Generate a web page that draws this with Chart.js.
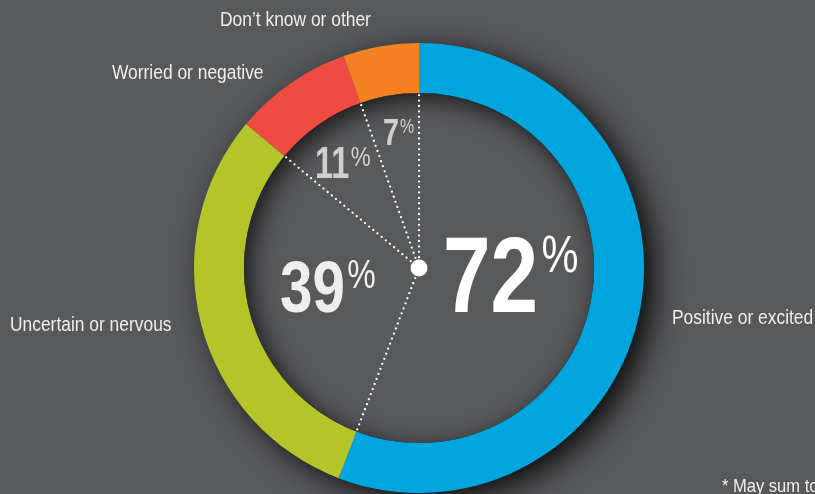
<!DOCTYPE html>
<html>
<head>
<meta charset="utf-8">
<script src="https://cdn.jsdelivr.net/npm/chart.js@4.4.1/dist/chart.umd.min.js"></script>
<style>
  html, body { margin: 0; padding: 0; background: #58595b; }
  #wrap { width: 815px; height: 494px; position: relative; }
</style>
</head>
<body>
<div id="wrap"><canvas id="donut"></canvas></div>
<script>
const categories = ["Positive or excited", "Uncertain or nervous", "Worried or negative", "Don\u2019t know or other"];
const values = [72, 39, 11, 7];
const colors = ["#00a5dd", "#b5c429", "#ef4b42", "#f58220"];
const footnote = "* May sum to more than 100%";

const BG = "#58595b";
const FONT = "'Liberation Sans', Arial, sans-serif";

// outer label anchors (left x, baseline y)
const labelAnchors = [
  [672, 324],
  [10, 331],
  [112, 79],
  [220, 26],
];

// big percentage numbers inside the hole, offsets from the centre
const numberStyle = [
  { dx: 24, dy: 44, size: 107, pct: 52, color: "#ffffff" },
  { dx: -139, dy: 44, size: 73, pct: 40, color: "#eeeeee" },
  { dx: -104, dy: -90, size: 44, pct: 28, color: "#cfcfcf" },
  { dx: -36, dy: -123, size: 36, pct: 20, color: "#cfcfcf" },
];

// draws text squeezed horizontally to get a condensed look
function squeezed(ctx, text, x, y, sx) {
  ctx.save();
  ctx.translate(x, y);
  ctx.scale(sx, 1);
  ctx.fillText(text, 0, 0);
  ctx.restore();
  return ctx.measureText(text).width * sx;
}

const ringDecor = {
  id: "ringDecor",
  beforeDatasetsDraw(chart) {
    const arc = chart.getDatasetMeta(0).data[0];
    const { x, y, outerRadius } = arc;
    const ctx = chart.ctx;
    ctx.save();
    ctx.shadowColor = "rgba(0,0,0,0.95)";
    ctx.shadowBlur = 32;
    ctx.shadowOffsetX = 11;
    ctx.shadowOffsetY = 8;
    ctx.fillStyle = BG;
    ctx.beginPath();
    ctx.arc(x, y, outerRadius - 2, 0, Math.PI * 2);
    ctx.fill();
    ctx.restore();
  },
  afterDatasetsDraw(chart) {
    const arcs = chart.getDatasetMeta(0).data;
    const { x: cx, y: cy, innerRadius } = arcs[0];
    const ctx = chart.ctx;

    // inner shadow of the hole
    ctx.save();
    ctx.beginPath();
    ctx.arc(cx, cy, innerRadius, 0, Math.PI * 2);
    ctx.clip();
    ctx.shadowColor = "rgba(0,0,0,0.75)";
    ctx.shadowBlur = 24;
    ctx.shadowOffsetX = 6;
    ctx.shadowOffsetY = 6;
    ctx.fillStyle = "#000";
    ctx.beginPath();
    ctx.arc(cx, cy, innerRadius + 80, 0, Math.PI * 2);
    ctx.arc(cx, cy, innerRadius, 0, Math.PI * 2, true);
    ctx.fill();
    ctx.restore();

    // dotted spokes to each segment boundary
    ctx.save();
    ctx.strokeStyle = "#ffffff";
    ctx.lineWidth = 2.3;
    ctx.lineCap = "round";
    ctx.setLineDash([0, 5.4]);
    arcs.forEach((a) => {
      const ang = a.startAngle;
      ctx.beginPath();
      ctx.moveTo(cx, cy);
      ctx.lineTo(cx + Math.cos(ang) * innerRadius, cy + Math.sin(ang) * innerRadius);
      ctx.stroke();
    });
    ctx.restore();

    ctx.save();
    ctx.fillStyle = "#ffffff";
    ctx.beginPath();
    ctx.arc(cx, cy, 8.5, 0, Math.PI * 2);
    ctx.fill();

    // percentages
    ctx.textBaseline = "alphabetic";
    ctx.textAlign = "left";
    values.forEach((v, i) => {
      const s = numberStyle[i];
      const tx = cx + s.dx, ty = cy + s.dy;
      const top = ty - s.size * 0.72;
      const g = ctx.createLinearGradient(0, top, 0, ty);
      g.addColorStop(0, s.color);
      g.addColorStop(1, "#ffffff");
      ctx.fillStyle = g;
      ctx.font = "bold " + s.size + "px " + FONT;
      const w = squeezed(ctx, String(v), tx, ty, i === 2 ? 0.74 : 0.8);
      ctx.font = s.pct + "px " + FONT;
      squeezed(ctx, "%", tx + w + s.size * 0.03, top + s.pct * 0.72, 0.8);
    });

    // category labels
    ctx.fillStyle = "#eeeeee";
    ctx.font = "20px " + FONT;
    categories.forEach((c, i) => {
      squeezed(ctx, c, labelAnchors[i][0], labelAnchors[i][1], 0.87);
    });
    ctx.font = "19px " + FONT;
    squeezed(ctx, footnote, 722, 492, 0.87);
    ctx.restore();
  },
};

new Chart(document.getElementById("donut"), {
  type: "doughnut",
  data: {
    labels: categories,
    datasets: [
      {
        data: values,
        backgroundColor: colors,
        borderWidth: 0,
        hoverOffset: 0,
      },
    ],
  },
  options: {
    responsive: true,
    maintainAspectRatio: false,
    animation: false,
    cutout: "77.8%",
    layout: { padding: { left: 194, right: 171, top: 43, bottom: 1 } },
    plugins: {
      legend: { display: false },
      tooltip: { enabled: false },
    },
  },
  plugins: [ringDecor],
});
</script>
</body>
</html>
